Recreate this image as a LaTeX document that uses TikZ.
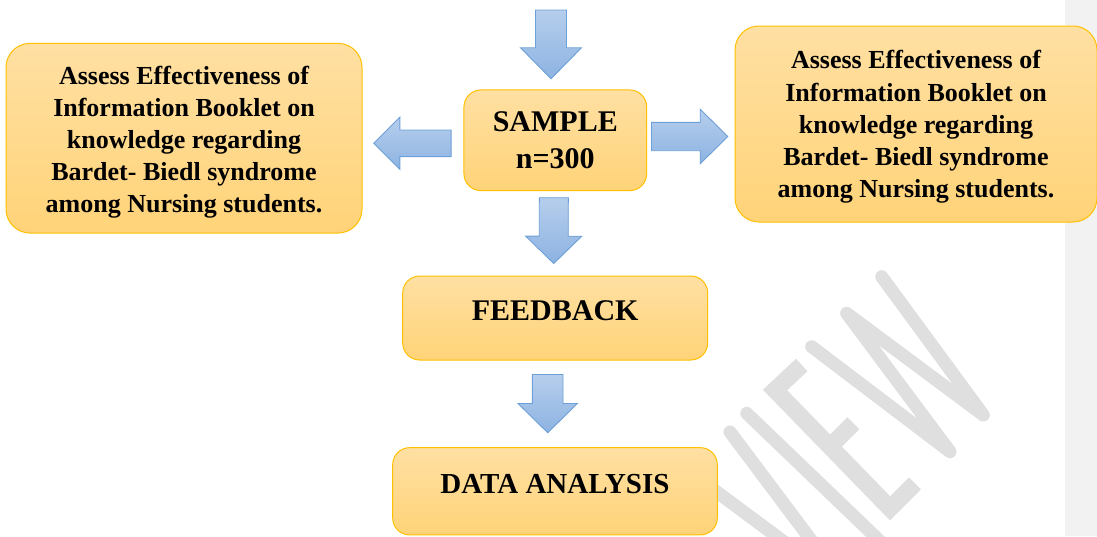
\documentclass[tikz,border=0pt]{standalone}
\usepackage{fontspec}
\setmainfont{Liberation Serif}[BoldFont={Liberation Serif Bold}]
\usetikzlibrary{calc}
\definecolor{boxtop}{RGB}{255,224,163}
\definecolor{boxbot}{RGB}{255,211,120}
\definecolor{boxline}{RGB}{255,192,0}
\definecolor{arrtop}{RGB}{182,206,236}
\definecolor{arrbot}{RGB}{141,179,226}
\definecolor{arrline}{RGB}{108,160,216}
\definecolor{wmark}{RGB}{223,223,223}
\definecolor{band}{RGB}{242,242,242}
\tikzset{
  box/.style={draw=boxline, line width=1pt, top color=boxtop, bottom color=boxbot,
              align=center, inner sep=0pt, text=black},
  blockarrow/.style={draw=arrline, line width=0.9pt, top color=arrtop, bottom color=arrbot, line join=miter},
  wm/.style={draw=wmark, line width=13pt, line cap=round, line join=round},
}
% tail, tip, shaft half width, head half width, head length
\newcommand{\blockarr}[5]{%
  \coordinate (ba-h) at ($(#2)!#5!(#1)$);
  \path[blockarrow] ($(#1)!#3!90:(#2)$) -- ($(ba-h)!#3!90:(#2)$) -- ($(ba-h)!#4!90:(#2)$)
     -- (#2) -- ($(ba-h)!#4!-90:(#2)$) -- ($(ba-h)!#3!-90:(#2)$) -- ($(#1)!#3!-90:(#2)$) -- cycle;
}
\begin{document}
\begin{tikzpicture}[x=1pt,y=-1pt]
\useasboundingbox (0,0) rectangle (1097,536);
% watermark
\draw[wm] (881.7,276.7) -- (983.3,415) -- (846.7,313.3) -- (950,451.7) -- (811.7,346.7);
\draw[wm, line width=17pt, line cap=butt, line join=miter] (801.7,365) -- (775,390) -- (890,508.3) -- (915,483.3);
\draw[wm, line width=17pt, line cap=butt] (833.3,443.3) -- (853.3,423.3);
\draw[wm] (746.7,413.3) -- (884,545);
\draw[wm] (730,432) -- (817,548);
\draw[wm] (690,472) -- (795,550);
% grey band
\fill[band] (1065,0) rectangle (1097,536);
% boxes
\node[box, rounded corners=24pt, minimum width=356pt, minimum height=189.7pt,
      font=\bfseries\fontsize{26}{32.2}\selectfont] (left) at (184,138.2)
  {\rule{0pt}{26.5pt}Assess Effectiveness of\\Information Booklet on\\knowledge regarding\\Bardet- Biedl syndrome\\among Nursing students.};
\node[box, rounded corners=24pt, minimum width=362pt, minimum height=196pt,
      font=\bfseries\fontsize{26}{32.2}\selectfont] (right) at (916,124)
  {\rule{0pt}{24.5pt}Assess Effectiveness of\\Information Booklet on\\knowledge regarding\\Bardet- Biedl syndrome\\among Nursing students.};
\node[box, rounded corners=17pt, minimum width=182.7pt, minimum height=100.7pt,
      font=\bfseries\fontsize{30}{37.3}\selectfont] (sample) at (555.3,140.3)
  {SAMPLE\\n=300};
\node[box, rounded corners=17pt, minimum width=305pt, minimum height=84pt,
      text height=20pt, text depth=16pt,
      font=\bfseries\fontsize{30}{36}\selectfont] (feedback) at (555.2,318) {FEEDBACK};
\node[box, rounded corners=17pt, minimum width=324.6pt, minimum height=87.3pt,
      text height=19.5pt, text depth=15pt,
      font=\bfseries\fontsize{29}{35}\selectfont] (data) at (555,491.3) {DATA ANALYSIS};
% arrows
\coordinate (in) at (551,10);
\coordinate (a1) at ($(sample.north)+(-4.3,-10.7)$);
\blockarr{in}{a1}{15.5pt}{30.5pt}{31pt}
\coordinate (l0) at ($(sample.west)+(-12.3,3)$);
\coordinate (l1) at ($(left.east)+(11.3,5.1)$);
\blockarr{l0}{l1}{13.3pt}{26pt}{26pt}
\coordinate (r0) at ($(sample.east)+(4.3,-3.8)$);
\coordinate (r1) at ($(right.west)+(-6.7,12.5)$);
\blockarr{r0}{r1}{14.2pt}{27.3pt}{27.6pt}
\coordinate (d0) at ($(sample.south)+(-1.5,6.6)$);
\coordinate (d1) at ($(feedback.north)+(-1.5,-12)$);
\blockarr{d0}{d1}{14.5pt}{28pt}{27.3pt}
\coordinate (e0) at ($(feedback.south)+(-7.5,14)$);
\coordinate (e1) at ($(data.north)+(-7.3,-14.4)$);
\blockarr{e0}{e1}{15.3pt}{29.7pt}{29.3pt}
\end{tikzpicture}
\end{document}
